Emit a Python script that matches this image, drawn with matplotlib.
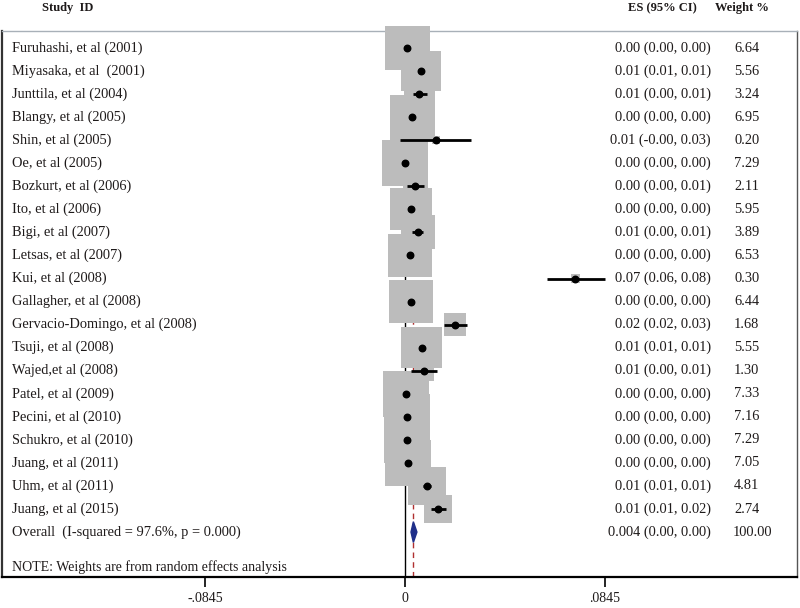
# Forest plot of effect sizes (random effects)
import matplotlib
matplotlib.use('Agg')
import matplotlib.pyplot as plt
import numpy as np

plt.rcParams['font.family'] = ['Liberation Serif', 'DejaVu Serif']

studies = ['Furuhashi, et al (2001)', 'Miyasaka, et al  (2001)', 'Junttila, et al (2004)',
           'Blangy, et al (2005)', 'Shin, et al (2005)', 'Oe, et al (2005)', 'Bozkurt, et al (2006)',
           'Ito, et al (2006)', 'Bigi, et al (2007)', 'Letsas, et al (2007)', 'Kui, et al (2008)',
           'Gallagher, et al (2008)', 'Gervacio-Domingo, et al (2008)', 'Tsuji, et al (2008)',
           'Wajed,et al (2008)', 'Patel, et al (2009)', 'Pecini, et al (2010)', 'Schukro, et al (2010)',
           'Juang, et al (2011)', 'Uhm, et al (2011)', 'Juang, et al (2015)']
es = [0.0010, 0.0068, 0.0059, 0.0030, 0.0130, 0.0000, 0.0042, 0.0025, 0.0053, 0.0020, 0.0720,
      0.0025, 0.0210, 0.0070, 0.0080, 0.0003, 0.0007, 0.0007, 0.0013, 0.0092, 0.0140]
ci_lo = [0.0005, 0.0060, 0.0034, 0.0025, -0.0021, -0.0005, 0.0010, 0.0020, 0.0030, 0.0015, 0.0600,
         0.0020, 0.0165, 0.0062, 0.0025, 0.0000, 0.0003, 0.0003, 0.0009, 0.0076, 0.0110]
ci_hi = [0.0015, 0.0076, 0.0093, 0.0035, 0.0278, 0.0005, 0.0080, 0.0030, 0.0076, 0.0025, 0.0845,
         0.0030, 0.0260, 0.0078, 0.0135, 0.0006, 0.0011, 0.0011, 0.0017, 0.0110, 0.0173]
weights = [6.64, 5.56, 3.24, 6.95, 0.20, 7.29, 2.11, 5.95, 3.89, 6.53, 0.30, 6.44, 1.68, 5.55,
           1.30, 7.33, 7.16, 7.29, 7.05, 4.81, 2.74]
es_text = ['0.00 (0.00, 0.00)', '0.01 (0.01, 0.01)', '0.01 (0.00, 0.01)', '0.00 (0.00, 0.00)',
           '0.01 (-0.00, 0.03)', '0.00 (0.00, 0.00)', '0.00 (0.00, 0.01)', '0.00 (0.00, 0.00)',
           '0.01 (0.00, 0.01)', '0.00 (0.00, 0.00)', '0.07 (0.06, 0.08)', '0.00 (0.00, 0.00)',
           '0.02 (0.02, 0.03)', '0.01 (0.01, 0.01)', '0.01 (0.00, 0.01)', '0.00 (0.00, 0.00)',
           '0.00 (0.00, 0.00)', '0.00 (0.00, 0.00)', '0.00 (0.00, 0.00)', '0.01 (0.01, 0.01)',
           '0.01 (0.01, 0.02)']
weight_text = ['6.64', '5.56', '3.24', '6.95', '0.20', '7.29', '2.11', '5.95', '3.89', '6.53', '0.30',
               '6.44', '1.68', '5.55', '1.30', '7.33', '7.16', '7.29', '7.05', '4.81', '2.74']

overall_label = 'Overall  (I-squared = 97.6%, p = 0.000)'
overall_es = 0.0035
overall_lo = 0.0025
overall_hi = 0.0050
overall_es_text = '0.004 (0.00, 0.00)'
overall_weight_text = '100.00'
note = 'NOTE: Weights are from random effects analysis'
xticks = [-0.0845, 0, 0.0845]
xtick_labels = ['-.0845', '0', '.0845']

txt_color = '#1e1a1a'
fs = 10.4
fig = plt.figure(figsize=(8, 6.08), dpi=100)
ax = fig.add_axes([0.0025, 1 - 577 / 608, 0.9938, (577 - 31) / 608])

rows = np.arange(1, len(studies) + 1)
ax.set_xlim(-0.1703, 0.1656)
ax.set_ylim(23.95, 0.26)

# reference lines
ax.axvline(0, color='black', lw=1, zorder=1)
ax.axvline(overall_es, color='#b03030', lw=1, ls=(0, (4, 3)), zorder=1)

# weight boxes, area proportional to weight
ax.scatter(es, rows, s=np.array(weights) * 153, marker='s', color='#bcbcbc',
           linewidths=0, zorder=3, clip_on=False)
ax.hlines(rows, ci_lo, ci_hi, color='black', lw=2, zorder=4)
ax.scatter(es, rows, s=22, color='black', zorder=5)

# overall diamond
n = len(studies) + 1
ax.fill([overall_lo, overall_es, overall_hi, overall_es], [n, n - 0.45, n, n + 0.45],
        color='#1f2f8a', zorder=5)

# text columns
lab_x = -0.1660
es_x = 0.1293
w_x = 0.1390
for i in range(len(studies)):
    ax.text(lab_x, rows[i], studies[i], ha='left', va='center', fontsize=fs, color=txt_color)
    ax.text(es_x, rows[i], es_text[i], ha='right', va='center', fontsize=fs, color=txt_color)
    ax.text(w_x, rows[i], weight_text[i], ha='left', va='center', fontsize=fs, color=txt_color)
ax.text(lab_x, n, overall_label, ha='left', va='center', fontsize=fs, color=txt_color)
ax.text(es_x, n, overall_es_text, ha='right', va='center', fontsize=fs, color=txt_color)
ax.text(w_x - 0.0008, n, overall_weight_text, ha='left', va='center', fontsize=fs, color=txt_color)
ax.text(lab_x, 23.5, note, ha='left', va='center', fontsize=10, color=txt_color)

# headers
fig.text(42 / 800, 1 - 8 / 608, 'Study  ID', ha='left', va='center', fontsize=9,
         fontweight='bold', color=txt_color)
fig.text(628 / 800, 1 - 8 / 608, 'ES (95% CI)', ha='left', va='center', fontsize=9,
         fontweight='bold', color=txt_color)
fig.text(715 / 800, 1 - 8 / 608, 'Weight %', ha='left', va='center', fontsize=9,
         fontweight='bold', color=txt_color)

ax.set_yticks([])
ax.set_xticks(xticks)
ax.set_xticklabels(xtick_labels, fontsize=10, color=txt_color)
ax.tick_params(axis='x', length=7, width=1.2, pad=4)
ax.spines['top'].set_color('#a8b0b8')
ax.spines['top'].set_linewidth(1)
ax.spines['left'].set_color('#333333')
ax.spines['left'].set_linewidth(1.6)
ax.spines['right'].set_color('#555555')
ax.spines['right'].set_linewidth(1)
ax.spines['bottom'].set_color('black')
ax.spines['bottom'].set_linewidth(1.6)

plt.savefig('out.png', dpi=100)
